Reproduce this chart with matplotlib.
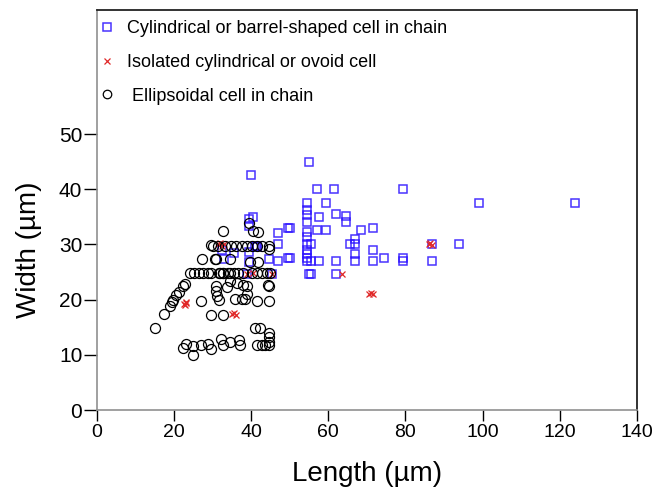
import matplotlib
matplotlib.use("Agg")
import matplotlib.pyplot as plt
from matplotlib import font_manager

# Cylindrical or barrel-shaped cell in chain
cyl_len = [40, 55, 57, 61.5, 79.5, 54.5, 59.5, 54.5, 54.5, 54.5, 57.5, 62, 64.5, 64.5,
           50, 57, 59.5, 54.5, 68.5, 71.5, 54.5, 67, 54.5, 55.5, 65.5, 67, 71.5, 54.5,
           54.5, 67, 50, 54.5, 74.5, 54.5, 55.5, 57.5, 62, 67, 71.5, 79.5, 79.5, 87, 87,
           94, 99, 124, 55.5, 62, 40.5, 39.5, 39.5, 47, 49.5, 47, 41.5, 41, 39.5, 33,
           35.5, 39.5, 44.5, 47, 49.5, 39, 45.5, 32.5, 55, 41.5]
cyl_wid = [42.5, 45, 40, 40, 40, 37.5, 37.5, 36.2, 35.3, 34.1, 35, 35.5, 35.2, 34,
           33, 32.6, 32.6, 32.3, 32.6, 33, 31.3, 31, 30, 30, 30, 30, 29, 29,
           28.3, 28.3, 27.5, 27.5, 27.5, 27, 27, 27, 27, 27, 27, 27.5, 27, 27, 30,
           30, 37.5, 37.5, 24.6, 24.6, 35, 34.7, 33.3, 32, 33, 30, 29.8, 29.8, 28.6, 27.3,
           28.4, 26.9, 27.3, 27, 27.5, 24.6, 24.6, 29, 24.6, 29.6]

# Isolated cylindrical or ovoid cell
iso_len = [31.5, 32, 32.5, 33, 22.5, 23, 22.8, 23.2, 35, 35.5, 36, 39, 40.5, 45.3,
           63.5, 70.5, 71, 71.5, 86, 86.5, 87]
iso_wid = [30, 30.3, 29.8, 30, 19.2, 19.5, 19, 19.3, 17.4, 17.6, 17.3, 24.6, 24.8, 24.6,
           24.6, 21, 21.2, 21, 30, 30.2, 29.9]

# Ellipsoidal cell in chain
ell_len = [29.7, 27.3, 30.9,
           24.1, 25.2, 26.5, 27.5, 28.7, 31.6, 32.7, 34,
           22.8, 22.4, 30.9, 30.9, 31.2, 31.7,
           21.3, 20.6, 19.8, 19.5, 18.9, 17.4, 26.9, 15,
           29.7, 32.7,
           23.1, 22.4, 25, 25, 26.9, 28.9, 29.7, 32.3, 32.6,
           33.6, 36.2, 35.8, 37.5, 38.8, 38.8, 38.4, 41.6, 44.6, 44.6,
           41, 42.3, 44.7, 44.7, 44.7, 44.7, 41.4, 42.7, 43.6,
           34.5, 36.9, 37.1,
           32.7, 39.5, 40.5, 41.8,
           30.2, 31.4, 33.2, 34.7, 36, 37.5, 38.8, 40.1, 41.4, 42.7, 44.7, 44.7,
           30.6, 34.6, 39.7, 41.8,
           29.7, 31.9, 32.6, 34.6, 35.5, 36.6, 37.9, 40.1, 41.4, 42.7, 44, 44.9,
           34.5, 37.9, 44.4]
ell_wid = [29.9, 27.3, 27.3,
           24.8, 24.8, 24.8, 24.8, 24.8, 24.8, 24.8, 24.8,
           22.9, 22.5, 22.4, 21.5, 20.7, 19.9,
           21.4, 20.8, 19.9, 19.6, 18.8, 17.4, 19.8, 14.8,
           17.2, 17.2,
           12.0, 11.2, 11.6, 10, 11.8, 12.0, 11.0, 12.8, 11.8,
           22.3, 23.1, 20.2, 20.2, 22.4, 21.1, 20.2, 19.8, 19.8, 22.4,
           14.8, 14.8, 14, 13.2, 12.4, 11.8, 11.8, 11.8, 11.8,
           12.4, 12.7, 11.8,
           32.4, 33.8, 32.5, 32.3,
           29.7, 29.7, 29.7, 29.7, 29.7, 29.7, 29.7, 29.7, 29.7, 29.7, 29.7, 29.1,
           27.3, 27.3, 26.9, 26.9,
           24.8, 24.8, 24.8, 24.8, 24.8, 24.8, 24.8, 24.8, 24.8, 24.8, 24.8, 24.8,
           23.3, 22.6, 22.6]

x_ticks = [0, 20, 40, 60, 80, 100, 120, 140]
y_ticks = [0, 10, 20, 30, 40, 50]

plt.rcParams['font.family'] = ['Liberation Sans', 'DejaVu Sans']

available = {f.name for f in font_manager.fontManager.ttflist}
narrow = 'Liberation Sans Narrow' if 'Liberation Sans Narrow' in available else 'Liberation Sans'

fig = plt.figure(figsize=(6.64, 4.94), dpi=100)
ax = fig.add_axes([0.146, 0.170, 0.813, 0.810])

ax.plot(cyl_len, cyl_wid, linestyle='none', marker='s', markersize=6,
        markerfacecolor='none', markeredgecolor='#2a10ff', markeredgewidth=1.1,
        alpha=0.85, label='Cylindrical or barrel-shaped cell in chain')
ax.plot(iso_len, iso_wid, linestyle='none', marker='x', markersize=5,
        markeredgecolor='#e02828', markeredgewidth=0.9,
        label='Isolated cylindrical or ovoid cell')
ax.plot(ell_len, ell_wid, linestyle='none', marker='o', markersize=7.2,
        markerfacecolor='none', markeredgecolor='black', markeredgewidth=0.9,
        label=' Ellipsoidal cell in chain')

ax.set_xlim(0, 140)
ax.set_ylim(0, 72.5)
ax.set_xticks(x_ticks)
ax.set_yticks(y_ticks)
ax.tick_params(axis='y', direction='out', length=9.5, width=1, color='black',
               labelsize=15, pad=1)
ax.tick_params(axis='x', direction='out', length=8, width=1, color='black',
               labelsize=15, pad=2)
for lab in ax.get_xticklabels():
    lab.set_family([narrow, 'DejaVu Sans'])
    if narrow == 'Liberation Sans':
        lab.set_fontsize(14)

for side in ['left', 'bottom']:
    ax.spines[side].set_color('#909090')
    ax.spines[side].set_linewidth(1.2)
for side in ['top', 'right']:
    ax.spines[side].set_color('#222222')
    ax.spines[side].set_linewidth(1.3)

ax.set_xlabel('Length (µm)', fontsize=20)
ax.set_ylabel('Width (µm)', fontsize=20)
ax.xaxis.set_label_coords(0.5, -0.127)
ax.yaxis.set_label_coords(-0.102, 0.40)

leg = ax.legend(loc='upper left', frameon=False, fontsize=13, labelspacing=0.93,
                handletextpad=0.6, borderaxespad=0.0, borderpad=0.4,
                markerscale=0.85, handlelength=1.03,
                bbox_to_anchor=(-0.012, 0.9925))

fig.savefig('out.png', dpi=100)
